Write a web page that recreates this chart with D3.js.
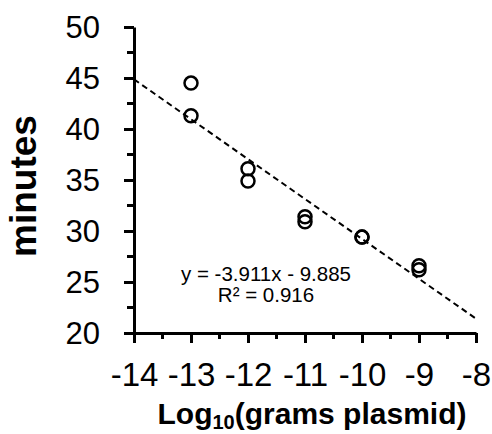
<!DOCTYPE html>
<html>
<head>
<meta charset="utf-8">
<script src="https://cdn.jsdelivr.net/npm/d3@7"></script>
<style>
  html, body { margin: 0; padding: 0; background: #fff; }
  svg { display: block; }
</style>
</head>
<body>
<div id="chart"></div>
<script>
// Data
const logGrams = [-13, -13, -12, -12, -11, -11, -10, -10, -9, -9];
const minutes  = [44.5, 41.3, 36.1, 34.9, 31.4, 30.9, 29.4, 29.4, 26.6, 26.2];
const xTicks = [-14, -13, -12, -11, -10, -9, -8];
const yTicks = [20, 25, 30, 35, 40, 45, 50];
const fitSlope = -3.911;
const fitIntercept = -9.885;
const fitLabel = ['y = -3.911x - 9.885', 'R² = 0.916'];

const FONT = "'Liberation Sans', Arial, sans-serif";
const INK = '#000';

const W = 492, H = 434;
const margin = { top: 27, right: 16, bottom: 101, left: 134 };
const width = W - margin.left - margin.right;
const height = H - margin.top - margin.bottom;

const svg = d3.select('#chart').append('svg')
  .attr('width', W).attr('height', H);

const g = svg.append('g')
  .attr('transform', `translate(${margin.left},${margin.top})`);

const x = d3.scaleLinear().domain([-14, -8]).range([0, width]);
const y = d3.scaleLinear().domain([20, 50]).range([height, 0]);

// Minor ticks
const xMinor = d3.range(-13.5, -8, 1);
const yMinor = d3.range(22.5, 50, 5);

g.selectAll('.xminor').data(xMinor).join('line')
  .attr('x1', d => x(d)).attr('x2', d => x(d))
  .attr('y1', height).attr('y2', height + 6)
  .attr('stroke', INK).attr('stroke-width', 3);

g.selectAll('.yminor').data(yMinor).join('line')
  .attr('x1', 0).attr('x2', -7)
  .attr('y1', d => y(d)).attr('y2', d => y(d))
  .attr('stroke', INK).attr('stroke-width', 3);

// Axes
const xAxis = g.append('g')
  .attr('transform', `translate(0,${height})`)
  .call(d3.axisBottom(x).tickValues(xTicks).tickSize(10).tickSizeOuter(0).tickPadding(20)
    .tickFormat(d => d));
const yAxis = g.append('g')
  .call(d3.axisLeft(y).tickValues(yTicks).tickSize(10).tickSizeOuter(0).tickPadding(24)
    .tickFormat(d => d));

[xAxis, yAxis].forEach(ax => {
  ax.select('.domain').attr('stroke', INK).attr('stroke-width', 3);
  ax.selectAll('line').attr('stroke', INK).attr('stroke-width', 3);
  ax.selectAll('text')
    .style('font-family', FONT)
    .style('font-size', '31px')
    .style('fill', INK);
});
xAxis.selectAll('text').attr('dy', '0.71em').style('font-size', '33px');
yAxis.selectAll('text').attr('dy', '0.35em');

// Trend line
g.append('line')
  .attr('x1', x(-14)).attr('y1', y(fitSlope * -14 + fitIntercept))
  .attr('x2', x(-8)).attr('y2', y(fitSlope * -8 + fitIntercept))
  .attr('stroke', INK).attr('stroke-width', 2)
  .attr('stroke-dasharray', '6,4');

// Points
g.selectAll('.dot').data(logGrams).join('circle')
  .attr('cx', d => x(d))
  .attr('cy', (d, i) => y(minutes[i]))
  .attr('r', 6.5)
  .attr('fill', 'none')
  .attr('stroke', INK)
  .attr('stroke-width', 2.5);

// Equation
g.selectAll('.eq').data(fitLabel).join('text')
  .attr('x', 132)
  .attr('y', (d, i) => 254 + i * 21)
  .attr('text-anchor', 'middle')
  .style('font-family', FONT)
  .style('font-size', '20.5px')
  .style('fill', INK)
  .text(d => d);

// Axis titles
const xt = svg.append('text')
  .attr('x', 312).attr('y', 424)
  .attr('text-anchor', 'middle')
  .style('font-family', FONT)
  .style('font-size', '30px')
  .style('font-weight', 'bold')
  .style('fill', INK);
xt.append('tspan').text('Log');
xt.append('tspan').attr('dy', 5).style('font-size', '20px').text('10');
xt.append('tspan').attr('dy', -5).text('(grams plasmid)');

svg.append('text')
  .attr('transform', 'translate(36,186) rotate(-90)')
  .attr('text-anchor', 'middle')
  .style('font-family', FONT)
  .style('font-size', '37px')
  .style('font-weight', 'bold')
  .style('fill', INK)
  .text('minutes');
</script>
</body>
</html>
